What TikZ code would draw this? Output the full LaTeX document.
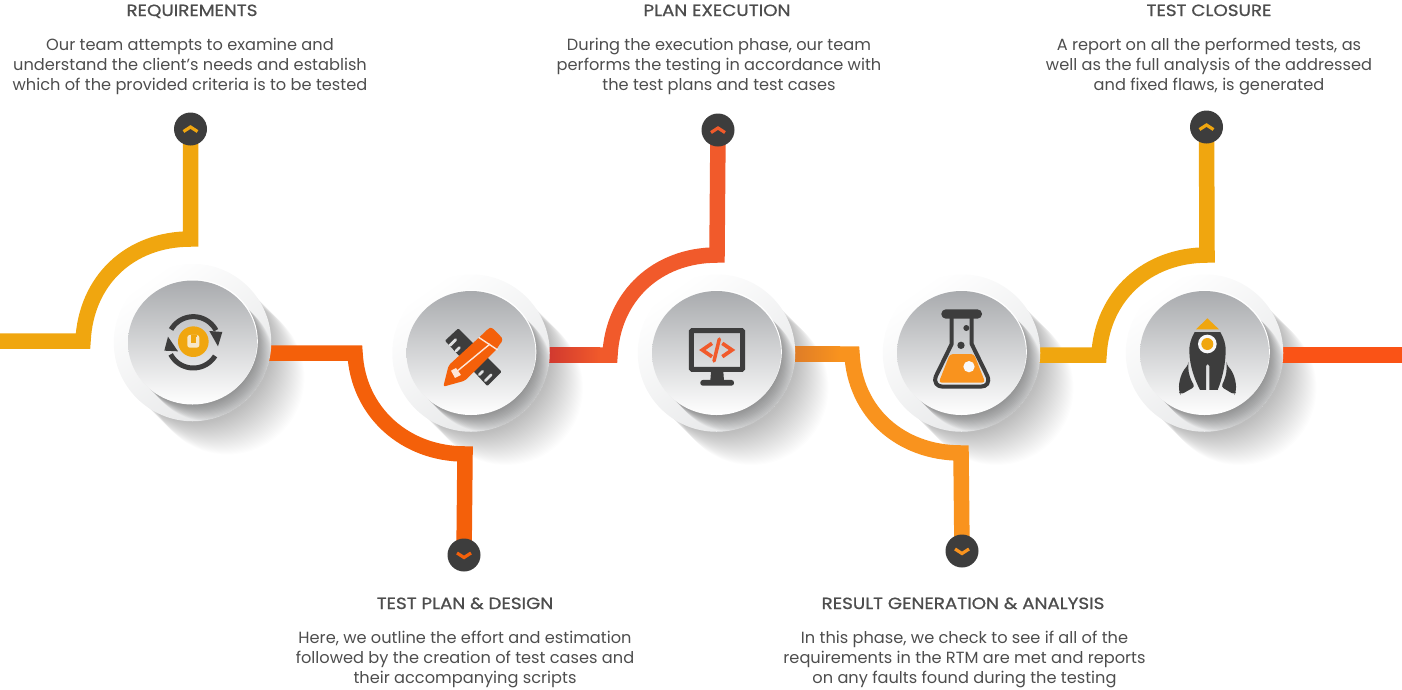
\documentclass[tikz,border=0pt]{standalone}
\usepackage{fontspec}
\setmainfont{Poppins}
\newfontfamily\headfont[FakeBold=0.9,FakeStretch=1.13]{Poppins}
\usetikzlibrary{shapes.geometric}
\definecolor{dark}{HTML}{3D3D3D}
\definecolor{txt}{HTML}{4D4D4D}
\definecolor{cyel}{HTML}{F0A60F}
\definecolor{corg}{HTML}{F4600A}
\definecolor{cred}{HTML}{F15A2B}
\definecolor{camb}{HTML}{F9931E}
\definecolor{cend}{HTML}{FA5316}
\definecolor{shadeA}{HTML}{D1392F}
\definecolor{shadeB}{HTML}{DF7D27}
\definecolor{faceMid}{HTML}{DFE0E1}
\definecolor{paleicon}{HTML}{F7E7C8}
\pgfdeclarelayer{shadowlayer}
\pgfdeclarelayer{connlayer}
\pgfsetlayers{shadowlayer,connlayer,main}
\tikzset{
  ring/.style={circle,draw=none,inner sep=0,minimum size=157.5,left color=white,right color=ringgrey,shading angle=35},
  face/.style={ellipse,draw=none,inner sep=0,minimum width=129,minimum height=124,top color=faceTop,middle color=faceMid,bottom color=white},
  rim/.style={ellipse,fill=white,inner sep=0,minimum width=129,minimum height=124},
  bullet/.style={circle,fill=dark,inner sep=0,minimum size=33},
  conn/.style={line width=15.5,miter limit=20},
  chev/.style={line width=3.2},
  head/.style={font=\headfont\fontsize{16.2}{20}\selectfont,text=txt,anchor=base},
  para/.style={font=\fontsize{16.2}{20}\selectfont,text=txt,align=center},
}
\definecolor{ringgrey}{HTML}{E6E7E8}
\definecolor{faceTop}{HTML}{A9ABAE}
\newcommand\dial[3]{%
  \begin{pgfonlayer}{shadowlayer}
    \foreach \k in {0,...,35} \fill[black,opacity=.009] (#2+\k,#3+\k) circle (77);
  \end{pgfonlayer}
  \node[ring] (#1) at (#2,#3) {};
  \begin{scope}
    \clip (#2,#3) circle (78.7);
    \foreach \k in {0,...,17} \fill[black,opacity=.023] (#2+\k,#3+\k) ellipse (64 and 62);
  \end{scope}
  \node[rim] at (#2+.8,#3-1.2) {};
  \node[face] (#1f) at (#2,#3) {};
}
\begin{document}
\begin{tikzpicture}[x=1pt,y=-1pt,line join=miter]
\useasboundingbox (0,0) rectangle (1402,689);
% dials
\dial{d1}{192.5}{342.5}
\dial{d2}{471}{353}
\dial{d3}{716.5}{353}
\dial{d4}{961.5}{353}
\dial{d5}{1204.5}{353}
% bullets
\node[bullet] (b1) at (190.5,129) {};
\node[bullet] (b2) at (464,555) {};
\node[bullet] (b3) at (718,130) {};
\node[bullet] (b4) at (962,551) {};
\node[bullet] (b5) at (1206.5,127) {};
\coordinate (w0) at (0,341);
\coordinate (w9) at (1402,355);
% connectors
\begin{pgfonlayer}{connlayer}
\draw[conn,cyel] (w0) -- (83,341) .. controls (86,280) and (130,239) .. (190.5,239) -- (b1.center);
\draw[conn,corg] (d1.center |- 0,353) -- (355,353) .. controls (358,412) and (405,454) .. (465,454) -- (b2.center);
\draw[conn,cred] (d2.center |- 0,355) -- (610,355) .. controls (613,296) and (657,255) .. (717,255) -- (b3.center);
\draw[conn,camb] (d3.center |- 0,354) -- (852,354) .. controls (855,412) and (900,453) .. (961,453) -- (b4.center);
\draw[conn,cyel] (d4.center |- 0,355) -- (1099,355) .. controls (1102,296) and (1147,255) .. (1207,255) -- (b5.center);
\draw[conn,cend] (d5.center |- 0,355) -- (w9);
\shade[left color=shadeA,right color=cred] (549,347.3) rectangle (600,362.7);
\shade[left color=shadeB,right color=camb] (795,346.3) rectangle (840,361.7);
\end{pgfonlayer}
% chevrons
\draw[chev,cyel] (183.5,131.5) -- (190.5,127) -- (197.5,131.5);
\draw[chev,corg] (457,553) -- (464,557.5) -- (471,553);
\draw[chev,cred] (711,132.5) -- (718,128) -- (725,132.5);
\draw[chev,camb] (955,549) -- (962,553.5) -- (969,549);
\draw[chev,cyel] (1199.5,129.5) -- (1206.5,125) -- (1213.5,129.5);
% icon 1
\begin{scope}[shift={(100,250)},x=.3333pt,y=-.3333pt]
\draw[dark,line width=5] plot[domain=150:28,samples=30] ({280+77*cos(\x)},{277-77*sin(\x)});
\draw[dark,line width=5] plot[domain=328:208,samples=30] ({280+77*cos(\x)},{277-77*sin(\x)});
\fill[dark] (328,243) -- (367,246) -- (354,289) -- cycle;
\fill[dark] (193,302) -- (204,260) -- (234,304) -- cycle;
\fill[cyel] (280,275) circle (46);
\fill[paleicon,rounded corners=2.5] (262,255) rectangle (298,293);
\fill[cyel] (272,255) rectangle (288,280);
\fill[cyel] (288,255) rectangle (290,262);
\end{scope}
% icon 2
\begin{scope}[shift={(380,260)},x=.3333pt,y=-.3333pt]
\fill[dark,rounded corners=1] (235,205) -- (365,335) -- (322,378) -- (195,242) -- cycle;
\foreach \a/\b/\l in {210/256/24,228/273/14,298/344/14,316/362/24}
  \draw[faceMid,line width=2.8,line cap=round] (\a,\b) -- ++(\l*.72,-\l*.72);
\fill[corg,rounded corners=2] (190,380) -- (206,316) -- (300,230) -- (325,206) .. controls (333,202) and (340,207) .. (345,212) -- (361,228) .. controls (368,236) and (367,244) .. (360,251) -- (350,268) -- (255,362) -- cycle;
\draw[white!85!corg,line width=1.4] (296,232) -- (353,270);
\draw[white!85!corg,line width=1.4] (226,338) -- (330,252);
\fill[white!85!corg] (213,332) -- (228,324) -- (243,345) -- (225,354) -- cycle;
\end{scope}
% icon 3
\begin{scope}[shift={(630,260)},x=.3333pt,y=-.3333pt]
\draw[dark,line width=5,rounded corners=1] (184,212) rectangle (338,328);
\fill[dark] (243,335) -- (280,335) -- (282,362) -- (241,362) -- cycle;
\fill[dark,rounded corners=2.5] (211,360) rectangle (312,377);
\draw[cred,line width=3.7] (246,250) -- (217,270) -- (246,290);
\draw[cred,line width=3.7] (277,250) -- (306,270) -- (277,290);
\draw[cred,line width=3.5,line cap=round] (268,237) -- (252,303);
\end{scope}
% icon 4
\begin{scope}[shift={(880,270)},x=.3333pt,y=-.3333pt]
\fill[camb,rounded corners=3] (210,252) -- (282,252) -- (316,338) -- (176,338) -- cycle;
\draw[dark,line width=4,line join=round] (215,140) -- (215,222) -- (168,318) .. controls (160,338) and (172,350) .. (188,350) -- (302,350) .. controls (320,350) and (330,338) .. (322,318) -- (275,222) -- (275,140);
\fill[dark,rounded corners=4.5] (184,118) rectangle (306,146);
\fill[white!92!faceTop] (267,290) circle (17);
\fill[dark] (243,226) circle (11);
\fill[dark] (259,174) circle (9);
\end{scope}
% icon 5
\begin{scope}[shift={(1120,270)},x=.3333pt,y=-.3333pt]
\fill[cyel] (228,178) -- (262,145) -- (297,178) -- cycle;
\fill[dark] (224,186) -- (301,186) .. controls (312,205) and (318,225) .. (317,245) .. controls (316,290) and (305,330) .. (293,360) -- (268,360) -- (268,288) .. controls (268,280) and (258,280) .. (258,288) -- (258,360) -- (240,360) .. controls (225,330) and (209,290) .. (208,245) .. controls (207,225) and (213,205) .. (224,186) -- cycle;
\fill[white!92!faceTop] (262,222) circle (28);
\fill[cyel] (262,222) circle (18);
\fill[dark,rounded corners=3] (205,285) .. controls (185,305) and (175,335) .. (178,368) -- (182,374) -- (225,350) .. controls (212,330) and (205,310) .. (205,285) -- cycle;
\fill[dark,rounded corners=3] (320,285) .. controls (340,305) and (350,335) .. (347,368) -- (343,374) -- (303,350) .. controls (314,330) and (320,310) .. (320,285) -- cycle;
\end{scope}
% text
\node[head] (h1) at (192,16) {REQUIREMENTS};
\node[para] (t1) at (190,66.3) {Our team attempts to examine and\\understand the client’s needs and establish\\which of the provided criteria is to be tested};
\node[head] (h2) at (465,609) {TEST PLAN \& DESIGN};
\node[para] (t2) at (465,659.3) {Here, we outline the effort and estimation\\followed by the creation of test cases and\\their accompanying scripts};
\node[head] (h3) at (717,16) {PLAN EXECUTION};
\node[para] (t3) at (719,66.3) {During the execution phase, our team\\performs the testing in accordance with\\the test plans and test cases};
\node[head] (h4) at (963,609) {RESULT GENERATION \& ANALYSIS};
\node[para] (t4) at (964.5,659.3) {In this phase, we check to see if all of the\\requirements in the RTM are met and reports\\on any faults found during the testing};
\node[head] (h5) at (1209,16) {TEST CLOSURE};
\node[para] (t5) at (1209,66.3) {A report on all the performed tests, as\\well as the full analysis of the addressed\\and fixed flaws, is generated};
\end{tikzpicture}
\end{document}
